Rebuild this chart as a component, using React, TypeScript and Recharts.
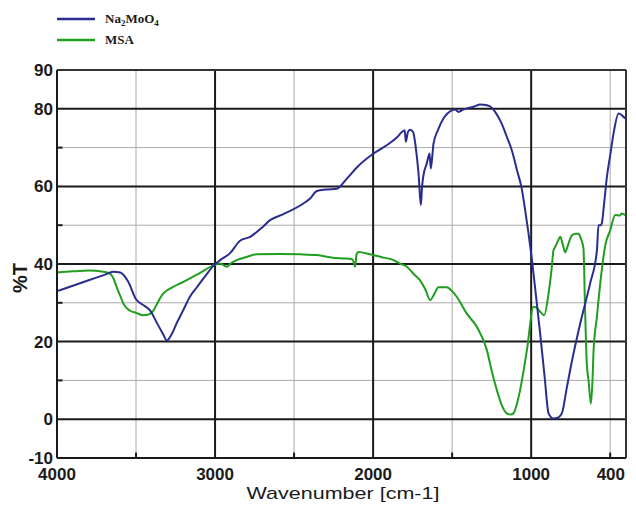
import React from 'react';
import { LineChart, Line, XAxis, YAxis, ReferenceLine } from 'recharts';

// Na2MoO4 spectrum (wavenumber, %T)
const naWave = [
  4000, 3900, 3800, 3700, 3644, 3600, 3550, 3500, 3450, 3410, 3370, 3330, 3305, 3280, 3240, 3200,
  3160, 3115, 3060, 3006, 2968, 2905, 2842, 2778, 2700, 2652, 2570, 2441, 2400, 2356, 2300, 2230,
  2166, 2100, 2000, 1900, 1850, 1818, 1800, 1793, 1780, 1766, 1747, 1730, 1712, 1698, 1690, 1683,
  1660, 1643, 1635, 1625, 1618, 1590, 1555, 1530, 1502, 1480, 1460, 1430, 1407, 1360, 1323, 1280,
  1250, 1228, 1190, 1154, 1120, 1090, 1060, 1038, 995, 970, 943, 915, 890, 860, 837, 806, 775, 742,
  690, 627, 584, 574, 560, 553, 540, 521, 500, 479, 447, 425, 405,
];
const naT = [
  33, 34.4, 35.8, 37.2, 38, 37.8, 35.5, 30.9, 29.3, 28, 25, 22, 20.3, 21.5, 25, 28.2,
  31.5, 34, 37, 39.7, 41, 42.8, 46, 47, 49.5, 51.3, 52.8, 55.6, 56.8, 58.8, 59.2, 59.4,
  62, 65, 68.4, 71, 72.6, 74, 74.5, 71.5, 74, 74.6, 74, 70, 63, 55.2, 60, 62.5,
  66, 68.5, 64.6, 68, 71, 74.5, 77.5, 78.8, 79.6, 79.8, 79.2, 79.8, 80.1, 80.6, 81.1, 80.9,
  80.3, 79.2, 76.5, 72.8, 69, 64.2, 59.5, 53.9, 41, 32, 22, 11, 1.5, 0.2, 0.3, 1.5, 8, 15,
  24.6, 35, 43.5, 50, 50, 50.5, 55, 62.4, 68, 73.6, 78.8, 78.3, 77.5,
];

// MSA spectrum (wavenumber, %T)
const msaWave = [
  4000, 3900, 3800, 3707, 3665, 3640, 3622, 3600, 3580, 3540, 3500, 3454, 3420, 3390, 3360, 3327,
  3270, 3200, 3100, 3006, 2968, 2926, 2900, 2863, 2800, 2736, 2600, 2462, 2356, 2253, 2166, 2130,
  2114, 2105, 2093, 2019, 1950, 1871, 1829, 1786, 1745, 1703, 1670, 1639, 1610, 1587, 1534, 1500,
  1470, 1407, 1344, 1280, 1250, 1217, 1185, 1154, 1130, 1112, 1090, 1070, 1027, 985, 960, 943,
  918, 890, 870, 859, 848, 830, 816, 800, 785, 770, 742, 720, 700, 685, 669, 660, 648, 637,
  622, 612, 605, 584, 563, 530, 500, 468, 440, 426, 405,
];
const msaT = [
  37.8, 38.1, 38.3, 38, 37.5, 36, 34, 31.8, 29.8, 28, 27.4, 26.8, 27, 28, 30.3, 32.4,
  34, 35.4, 37.6, 39.7, 40.1, 39.3, 40.2, 41, 41.8, 42.5, 42.6, 42.5, 42.3, 41.6, 41.4, 41.2,
  39.3, 42.5, 43.1, 42.5, 41.8, 41, 40.1, 39.3, 37.5, 35.8, 33.5, 30.7, 32.5, 34, 34, 33,
  31.5, 27.2, 23.8, 17.8, 12.5, 7.5, 3.5, 1.5, 1.2, 1.5, 4, 7.5, 17.8, 29, 28.5, 27.7,
  26.8, 32.4, 39, 43.5, 44.4, 46, 47, 45, 43, 44.5, 47.4, 47.8, 47.8, 46.5, 44, 30, 14.3, 10,
  4, 10, 17.8, 26.4, 35, 45, 48.7, 52.6, 52.5, 53, 52.6,
];

const xTicks = [4000, 3000, 2000, 1000, 400];
const yTicks = [-10, 0, 20, 40, 60, 80, 90];
const majorX = [3000, 2000, 1000];
const minorX = [3500, 2500, 1500, 500];
const majorY = [80, 60, 40, 20, 0];
const minorY = [70, 50, 30, 10];

const naData = naWave.map((x, i) => ({ x, y: naT[i] }));
const msaData = msaWave.map((x, i) => ({ x, y: msaT[i] }));

const BLUE = '#2a2d8e';
const GREEN = '#1f9e1f';
const FONT = 'Liberation Sans, Arial, sans-serif';
const SERIF = 'Liberation Serif, Times New Roman, serif';

const XTick = (props: any) => {
  const { x, y, payload } = props;
  const last = payload.value === 400;
  return (
    <text x={last ? x + 1 : x} y={y + 14} textAnchor={last ? 'end' : 'middle'} fontFamily={FONT}
      fontSize={17} fontWeight="bold" fill="#1a1a1a">
      {payload.value}
    </text>
  );
};

const YTick = (props: any) => {
  const { x, y, payload } = props;
  return (
    <text x={x + 4} y={y + 6} textAnchor="end" fontFamily={FONT} fontSize={17} fontWeight="bold" fill="#1a1a1a">
      {payload.value}
    </text>
  );
};

export default function App() {
  return (
    <div style={{ position: 'absolute', left: 0, top: 0, width: 636, height: 506, background: '#fff' }}>
      <LineChart width={636} height={506} margin={{ top: 70, right: 10, left: 0, bottom: 0 }}>
        <XAxis
          dataKey="x"
          type="number"
          domain={[400, 4000]}
          reversed
          ticks={xTicks}
          tick={<XTick />}
          tickLine={false}
          axisLine={{ stroke: '#1a1a1a', strokeWidth: 2 }}
          height={48}
          allowDuplicatedCategory={false}
        />
        <YAxis
          dataKey="y"
          type="number"
          domain={[-10, 90]}
          ticks={yTicks}
          tick={<YTick />}
          tickLine={false}
          axisLine={{ stroke: '#1a1a1a', strokeWidth: 2 }}
          width={57}
        />
        {minorX.map((v) => (
          <ReferenceLine key={`mx${v}`} x={v} stroke="#aaa" strokeWidth={1} />
        ))}
        {minorY.map((v) => (
          <ReferenceLine key={`my${v}`} y={v} stroke="#aaa" strokeWidth={1} />
        ))}
        {minorY.map((v) => (
          <ReferenceLine key={`ty${v}`} segment={[{ x: 4000, y: v }, { x: 3965, y: v }]} stroke="#1a1a1a" strokeWidth={2} />
        ))}
        {minorX.map((v) => (
          <ReferenceLine key={`tx${v}`} segment={[{ x: v, y: -10 }, { x: v, y: -8.6 }]} stroke="#1a1a1a" strokeWidth={2} />
        ))}
        {majorX.map((v) => (
          <ReferenceLine key={`Mx${v}`} x={v} stroke="#1a1a1a" strokeWidth={2} />
        ))}
        {majorY.map((v) => (
          <ReferenceLine key={`My${v}`} y={v} stroke="#1a1a1a" strokeWidth={2} />
        ))}
        <ReferenceLine y={90} stroke="#333" strokeWidth={2} />
        <ReferenceLine x={400} stroke="#333" strokeWidth={2} />
        <Line data={msaData} dataKey="y" type="monotone" stroke={GREEN} strokeWidth={2} dot={false} isAnimationActive={false} />
        <Line data={naData} dataKey="y" type="monotone" stroke={BLUE} strokeWidth={2} dot={false} isAnimationActive={false} />
      </LineChart>
      <svg width={636} height={506} style={{ position: 'absolute', left: 0, top: 0, pointerEvents: 'none' }}>
        <line x1={57} x2={95} y1={19} y2={19} stroke={BLUE} strokeWidth={2.5} />
        <line x1={57} x2={95} y1={40} y2={40} stroke={GREEN} strokeWidth={2.5} />
        <text x={105} y={23} fontFamily={SERIF} fontWeight="bold" fontSize={13} fill="#1a1a1a">
          Na<tspan fontSize={9} dy={3}>2</tspan><tspan dy={-3}>MoO</tspan><tspan fontSize={9} dy={3}>4</tspan>
        </text>
        <text x={105} y={44} fontFamily={SERIF} fontWeight="bold" fontSize={13} fill="#1a1a1a">MSA</text>
        <text x={0} y={0} transform="translate(27,278) rotate(-90)" textAnchor="middle" fontFamily={FONT}
          fontWeight="bold" fontSize={20} fill="#1a1a1a">%T</text>
        <text x={343} y={499} textAnchor="middle" fontFamily={FONT} fontSize={17} fill="#1a1a1a"
          textLength={193} lengthAdjust="spacingAndGlyphs">Wavenumber [cm-1]</text>
      </svg>
    </div>
  );
}
